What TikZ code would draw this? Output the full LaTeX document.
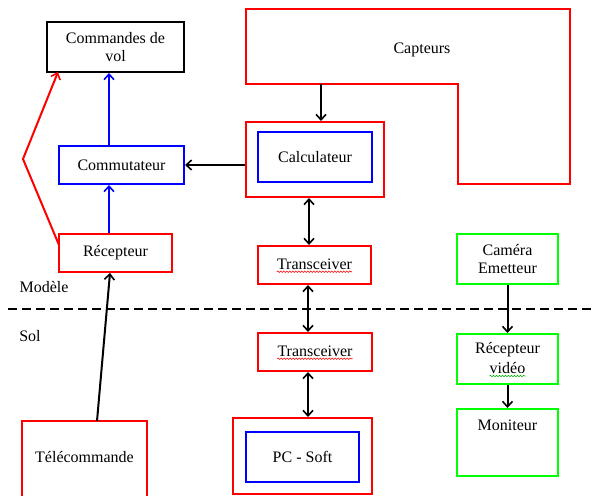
\documentclass[tikz,border=0pt]{standalone}
\usepackage{fontspec}
\setmainfont{Liberation Serif}
\usetikzlibrary{arrows.meta,decorations.pathmorphing}
\definecolor{cred}{RGB}{255,0,0}
\definecolor{cblue}{RGB}{0,0,255}
\definecolor{cgreen}{RGB}{0,255,0}
\begin{document}
\begin{tikzpicture}[x=1pt,y=-1pt,
  font=\fontsize{16}{18.5}\selectfont,
  rbox/.style={draw=cred, line width=2pt, inner sep=0pt, align=center},
  bbox/.style={draw=cblue, line width=2pt, inner sep=0pt, align=center},
  gbox/.style={draw=cgreen, line width=2pt, inner sep=0pt, align=center},
  kbox/.style={draw=black, line width=2pt, inner sep=0pt, align=center},
  txt/.style={inner sep=0pt, align=center},
  tip/.tip={Straight Barb[length=5.5pt,width=10pt,line width=1.6pt]},
  arr/.style={-tip, line width=2pt},
  darr/.style={tip-tip, line width=2pt},
  wavy/.style={line width=0.6pt, decorate, decoration={snake, amplitude=0.7pt, segment length=3pt}}]
\clip (0,0) rectangle (596,495);
\fill[white] (0,0) rectangle (596,495);
% boxes
\node[kbox, minimum width=137pt, minimum height=50pt] (cmd) at (115.5,47) {Commandes de\\vol};
\node[bbox, minimum width=125pt, minimum height=38pt] (comm) at (121.5,165) {Commutateur};
\node[rbox, minimum width=113pt, minimum height=38pt] (rec) at (115.5,253) {Récepteur};
\node[rbox, minimum width=125pt, minimum height=90pt] (tele) at (84.5,466) {};
\node[txt] (telet) at (84.5,457) {Télécommande};
% capteurs
\draw[cred, line width=2pt] (246,9) -- (570,9) -- (570,184) -- (458,184) -- (458,84) -- (246,84) -- cycle;
\node[txt] (capt) at (422,50) {Capteurs};
\coordinate (capb) at (321,84);
% calculateur
\node[rbox, minimum width=138pt, minimum height=75pt] (calc) at (315,159.5) {};
\node[bbox, minimum width=114pt, minimum height=50pt] (calci) at (315,157) {Calculateur};
% transceivers
\node[rbox, minimum width=113pt, minimum height=38pt] (tr1) at (314.5,265) {};
\node[txt] (tr1t) at (314.5,264) {Transceiver};
\node[rbox, minimum width=114pt, minimum height=38pt] (tr2) at (315,352) {};
\node[txt] (tr2t) at (315,351) {Transceiver};
% PC
\node[rbox, minimum width=139pt, minimum height=76pt] (pc) at (302.5,456) {};
\node[bbox, minimum width=113pt, minimum height=50pt] (pci) at (302.5,457) {PC - Soft};
% video chain
\node[gbox, minimum width=101pt, minimum height=50pt] (cam) at (507.5,259) {Caméra\\Emetteur};
\node[gbox, minimum width=101pt, minimum height=50pt] (recv) at (507.5,359) {};
\node[txt] (recvt1) at (507.5,350) {Récepteur};
\node[txt] (recvt2) at (507.5,368) {vidéo};
\node[gbox, minimum width=101pt, minimum height=67pt] (mon) at (507.5,442.5) {};
\node[txt] (mont) at (507.5,425) {Moniteur};
% labels
\node[txt] (modele) at (44,287) {Modèle};
\node[txt] (sol) at (30,336) {Sol};
% dashed separator
\coordinate (dl) at (8,309);
\coordinate (dr) at (600,309);
\draw[line width=2pt, dash pattern=on 9pt off 5pt] (dl) -- (dr);
% wavy underlines
\draw[wavy, cred] ([yshift=-2.5pt]tr1t.base west) -- ([yshift=-2.5pt]tr1t.base east);
\draw[wavy, cred] ([yshift=-2.5pt]tr2t.base west) -- ([yshift=-2.5pt]tr2t.base east);
\draw[wavy, cgreen!70!black] ([yshift=-2.5pt]recvt2.base west) -- ([yshift=-2.5pt]recvt2.base east);
% connectors
\coordinate (bx) at (109,0);
\draw[arr, cblue] (bx |- comm.north) -- (bx |- cmd.south);
\draw[arr, cblue] (bx |- rec.north) -- (bx |- comm.south);
\coordinate (rs) at (59,245);
\coordinate (rm) at (23,159);
\coordinate (re) at (58,72);
\draw[arr, cred, line join=miter] (rs) -- (rm) -- (re);
\draw[arr] ([xshift=12.5pt]tele.north |- 0,421) -- ([xshift=-5.5pt]rec.south);
\draw[arr] (capb) -- (capb |- calc.north);
\draw[arr] (calc.west |- comm.east) -- (comm.east);
\draw[darr] ([xshift=-6pt]calc.south) -- ([xshift=-6pt]calc.south |- tr1.north);
\draw[darr] ([xshift=-6.5pt]tr1.south) -- ([xshift=-6.5pt]tr1.south |- tr2.north);
\draw[darr] ([xshift=-7pt]tr2.south) -- ([xshift=-7pt]tr2.south |- pc.north);
\draw[arr] (cam.south) -- (recv.north);
\draw[arr] (recv.south) -- (mon.north);
\end{tikzpicture}
\end{document}
